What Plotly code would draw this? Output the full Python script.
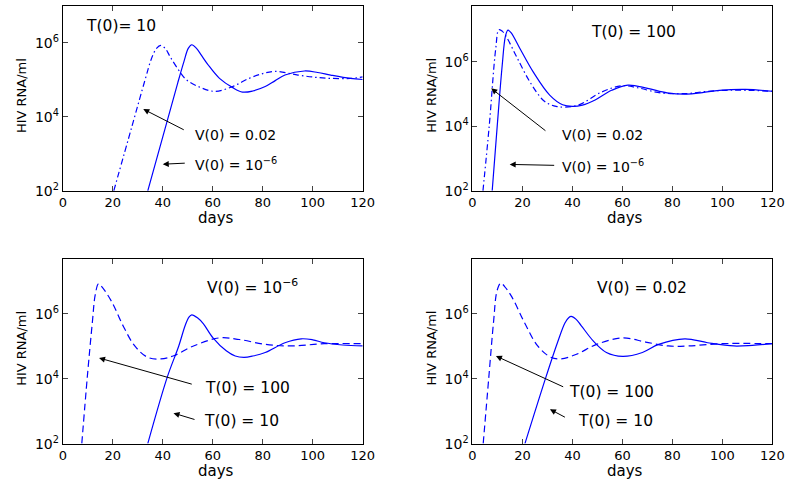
import numpy as np
import plotly.graph_objects as go

# ---------------- data (y given as log10 of HIV RNA/ml) ----------------
X_TICKS = [0, 20, 40, 60, 80, 100, 120]
Y_TICKS = [1e2, 1e4, 1e6]
Y_TICK_TEXT = ["10<sup>2</sup>", "10<sup>4</sup>", "10<sup>6</sup>"]

# Panel 1: T(0)=10
p1_v1e6_days = [34.0, 41.2, 46.0, 48.5, 50.2, 51.6, 53.5, 55.5, 58.0, 62.7, 68.0, 71.9, 76.0, 81.0, 85.0, 88.9, 96.7, 102.0, 107.2, 115.0, 120.0]
p1_v1e6_log = [2.0, 3.75, 4.92, 5.5, 5.85, 5.95, 5.85, 5.66, 5.42, 5.04, 4.79, 4.67, 4.7, 4.82, 4.98, 5.13, 5.24, 5.2, 5.13, 5.04, 5.01]
p1_v002_days = [20.4, 27.7, 33.0, 35.5, 37.5, 39.2, 41.0, 43.0, 46.4, 49.5, 54.9, 60.8, 68.0, 74.5, 80.0, 85.0, 94.1, 101.0, 107.2, 115.0, 120.0]
p1_v002_log = [2.0, 3.75, 5.02, 5.58, 5.85, 5.93, 5.85, 5.62, 5.26, 5.0, 4.8, 4.69, 4.82, 5.04, 5.17, 5.23, 5.13, 5.07, 5.04, 5.04, 5.08]

# Panel 2: T(0)=100
p2_v1e6_days = [7.9, 9.9, 11.9, 13.2, 14.2, 15.5, 19.1, 24.3, 30.9, 36.1, 40.0, 44.0, 49.1, 55.7, 62.2, 70.1, 77.9, 85.8, 92.0, 98.8, 109.3, 120.0]
p2_v1e6_log = [2.0, 4.0, 5.89, 6.8, 6.99, 6.9, 6.4, 5.69, 4.97, 4.67, 4.62, 4.66, 4.82, 5.12, 5.28, 5.18, 5.04, 5.0, 5.05, 5.12, 5.15, 5.09]
p2_v002_days = [4.2, 6.7, 9.3, 10.6, 12.0, 13.8, 17.8, 23.0, 28.2, 31.0, 33.5, 37.0, 42.6, 51.8, 59.6, 66.0, 75.3, 85.8, 93.0, 101.4, 110.0, 120.0]
p2_v002_log = [2.0, 4.0, 6.4, 7.0, 6.95, 6.75, 6.14, 5.38, 4.82, 4.68, 4.62, 4.6, 4.67, 5.07, 5.26, 5.2, 5.04, 5.02, 5.08, 5.12, 5.12, 5.09]

# Panel 3: V(0)=1e-6
p3_t10_days = [34.0, 41.8, 46.4, 49.0, 50.5, 51.6, 54.0, 56.2, 60.1, 65.4, 69.0, 72.5, 76.0, 81.0, 88.9, 95.4, 100.0, 104.6, 112.0, 120.0]
p3_t10_log = [2.0, 4.05, 5.01, 5.65, 5.9, 5.97, 5.87, 5.7, 5.26, 4.86, 4.7, 4.66, 4.7, 4.81, 5.11, 5.23, 5.2, 5.11, 5.04, 5.01]
p3_t100_days = [7.6, 9.8, 11.8, 13.0, 14.3, 15.5, 19.6, 24.2, 28.8, 34.0, 39.2, 44.4, 52.3, 62.7, 70.6, 81.0, 91.5, 104.6, 120.0]
p3_t100_log = [2.0, 4.05, 5.72, 6.6, 6.93, 6.85, 6.37, 5.62, 5.01, 4.66, 4.61, 4.71, 5.01, 5.26, 5.21, 5.06, 5.01, 5.08, 5.08]

# Panel 4: V(0)=0.02
p4_t10_days = [21.0, 29.4, 34.0, 37.0, 38.5, 39.5, 41.5, 43.5, 48.4, 53.6, 60.1, 68.0, 74.5, 85.0, 94.1, 104.6, 112.0, 120.0]
p4_t10_log = [2.0, 4.05, 5.11, 5.72, 5.88, 5.92, 5.83, 5.64, 5.16, 4.81, 4.69, 4.81, 5.06, 5.23, 5.11, 5.01, 5.03, 5.08]
p4_t100_days = [4.3, 6.5, 8.5, 9.8, 11.3, 12.8, 15.7, 20.9, 26.1, 31.4, 35.3, 41.8, 49.7, 60.1, 69.3, 78.4, 86.3, 99.3, 120.0]
p4_t100_log = [2.0, 4.0, 5.8, 6.7, 6.95, 6.85, 6.53, 5.72, 5.01, 4.66, 4.61, 4.76, 5.06, 5.26, 5.13, 5.01, 5.01, 5.08, 5.08]

# ---------------- styling / layout ----------------
W, H = 801, 489
BLUE = "#0000ff"
FONT = "DejaVu Sans"
DASHDOT = "6px,3px,1.5px,3px"
DASHED = "7px,4px"


def px_x(p):
    return p / W


def px_y(p):
    return 1 - p / H


panels = [
    dict(n="", dx=(60, 366), dy=(6, 194), yr=[2, 7],
         series=[(p1_v1e6_days, p1_v1e6_log, "solid"), (p1_v002_days, p1_v002_log, DASHDOT)]),
    dict(n="2", dx=(478, 784), dy=(6, 194), yr=[2, 7.74],
         series=[(p2_v1e6_days, p2_v1e6_log, "solid"), (p2_v002_days, p2_v002_log, DASHDOT)]),
    dict(n="3", dx=(60, 366), dy=(263, 451), yr=[2, 7.7],
         series=[(p3_t10_days, p3_t10_log, "solid"), (p3_t100_days, p3_t100_log, DASHED)]),
    dict(n="4", dx=(478, 784), dy=(263, 451), yr=[2, 7.7],
         series=[(p4_t10_days, p4_t10_log, "solid"), (p4_t100_days, p4_t100_log, DASHED)]),
]

fig = go.Figure()
layout = dict(width=W, height=H, margin=dict(l=0, r=0, t=0, b=0),
              paper_bgcolor="white", plot_bgcolor="white", showlegend=False,
              font=dict(family=FONT, color="black", size=14))
annotations = []

for p in panels:
    n = p["n"]
    for days, logs, dash in p["series"]:
        fig.add_trace(go.Scatter(x=days, y=np.power(10.0, np.array(logs)), mode="lines",
                                 line=dict(color=BLUE, width=1.2, dash=dash, shape="spline", smoothing=1.0),
                                 xaxis="x" + n, yaxis="y" + n, hoverinfo="skip"))
    layout["xaxis" + n] = dict(domain=[px_x(p["dx"][0]), px_x(p["dx"][1])], anchor="y" + n,
                               range=[0, 120], tickvals=X_TICKS, ticks="inside", ticklen=5,
                               showline=True, linecolor="black", linewidth=1, mirror="ticks",
                               showgrid=False, zeroline=False,
                               tickfont=dict(family=FONT, size=13, color="black"))
    layout["yaxis" + n] = dict(domain=[px_y(p["dy"][1]), px_y(p["dy"][0])], anchor="x" + n,
                               type="log", range=p["yr"], tickvals=Y_TICKS, ticktext=Y_TICK_TEXT,
                               ticks="inside", ticklen=5, showline=True, linecolor="black", linewidth=1,
                               mirror="ticks", showgrid=False, zeroline=False,
                               tickfont=dict(family=FONT, size=14, color="black"))
    # axis titles
    cx = (p["dx"][0] + p["dx"][1]) / 2
    annotations.append(dict(text="days", xref="paper", yref="paper", x=px_x(cx + 3), y=px_y(p["dy"][1] + 28),
                            xanchor="center", yanchor="middle", showarrow=False,
                            font=dict(family=FONT, size=15)))
    cy = (p["dy"][0] + p["dy"][1]) / 2
    annotations.append(dict(text="HIV RNA/ml", xref="paper", yref="paper", x=px_x(p["dx"][0] - 42),
                            y=px_y(cy - 3), textangle=-90, xanchor="center", yanchor="middle",
                            showarrow=False, font=dict(family=FONT, size=13)))


def label(n, x, y, text, size):
    annotations.append(dict(text=text, xref="x" + n, yref="y" + n, x=x, y=y, xanchor="left",
                            yanchor="middle", showarrow=False, font=dict(family=FONT, size=size)))


def arrow(n, hx, hy, tx, ty):
    annotations.append(dict(text="", xref="x" + n, yref="y" + n, x=hx, y=hy, axref="x" + n, ayref="y" + n,
                            ax=tx, ay=ty, showarrow=True, arrowhead=2, arrowsize=1.2, arrowwidth=1,
                            arrowcolor="black"))


SUP6 = "10<sup>\u22126</sup>"
# Panel 1
label("", 8.6, 6.45, "T(0)= 10", 15.5)
arrow("", 32.2, 4.21, 49.0, 3.63)
label("", 52.2, 3.52, "V(0) = 0.02", 14)
arrow("", 40.0, 2.72, 49.4, 2.75)
label("", 52.2, 2.72, "V(0) = " + SUP6, 14)
# Panel 2
label("2", 46.7, 6.92, "T(0) = 100", 15.5)
arrow("2", 7.5, 5.18, 29.8, 3.83)
label("2", 34.9, 3.74, "V(0) = 0.02", 14)
arrow("2", 14.9, 2.82, 33.3, 2.79)
label("2", 34.9, 2.78, "V(0) = " + SUP6, 14)
# Panel 3
label("3", 56.9, 6.85, "V(0) = " + SUP6, 15.5)
arrow("3", 14.5, 4.64, 52.2, 3.82)
label("3", 56.1, 3.70, "T(0) = 100", 15.5)
arrow("3", 44.3, 2.94, 53.3, 2.73)
label("3", 55.7, 2.70, "T(0) = 10", 15.5)
# Panel 4
label("4", 49.0, 6.79, "V(0) = 0.02", 15.5)
arrow("4", 9.4, 4.70, 36.9, 3.73)
label("4", 38.0, 3.58, "T(0) = 100", 15.5)
arrow("4", 31.0, 3.06, 37.6, 2.79)
label("4", 41.6, 2.70, "T(0) = 10", 15.5)

layout["annotations"] = annotations
fig.update_layout(**layout)
fig.write_html("out.html")
